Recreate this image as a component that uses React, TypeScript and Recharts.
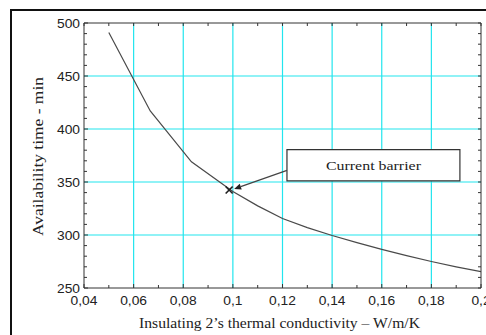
import React from 'react';
import {
  ComposedChart,
  Line,
  Scatter,
  XAxis,
  YAxis,
  CartesianGrid,
  ReferenceArea,
  ReferenceLine,
} from 'recharts';

// curve
const conductivity = [0.05, 0.0667, 0.0833, 0.1, 0.11, 0.12, 0.13, 0.14, 0.15, 0.16, 0.17, 0.18, 0.19, 0.2];
const availability = [491, 417, 369, 341, 327.5, 315.5, 307, 299.5, 292.8, 286.5, 280.5, 275, 270, 265.5];

// the current barrier marker
const barrierX = [0.0985];
const barrierY = [342.5];

const xMajor = [0.04, 0.06, 0.08, 0.1, 0.12, 0.14, 0.16, 0.18, 0.2];
const xMinor = [0.05, 0.07, 0.09, 0.11, 0.13, 0.15, 0.17, 0.19];
const yMajor = [250, 300, 350, 400, 450, 500];
const yMinor = [260, 270, 280, 290, 310, 320, 330, 340, 360, 370, 380, 390, 410, 420, 430, 440, 460, 470, 480, 490];

// annotation box and arrow, in data units
const boxX = [0.1218, 0.1915];
const boxY = [351, 380.5];
const arrowFrom = { x: 0.1218, y: 361 };
const arrowTo = { x: 0.1005, y: 343.5 };

const curveData = conductivity.map((x, i) => ({ x, y: availability[i] }));
const barrierData = barrierX.map((x, i) => ({ x, y: barrierY[i] }));

const AXIS = '#333';
const TEXT = '#222';
const SANS = '"Liberation Sans", Arial, sans-serif';
const SERIF = '"Liberation Serif", "Times New Roman", serif';

const isMajor = (v: number, majors: number[]) => majors.some((m) => Math.abs(m - v) < 1e-9);
const fmt = (v: number) => String(+v.toFixed(2)).replace('.', ',');

const BottomTick = (props: any) => {
  const { x, y, payload } = props;
  const major = isMajor(payload.value, xMajor);
  return (
    <g>
      <line x1={x} y1={y} x2={x} y2={y - (major ? 4 : 3)} stroke={AXIS} />
      {major && (
        <text
          transform={`translate(${x},${y + 17}) scale(1.15,1)`}
          textAnchor="middle"
          fontSize={12}
          fontFamily={SANS}
          fill={TEXT}
        >
          {fmt(payload.value)}
        </text>
      )}
    </g>
  );
};

const TopTick = (props: any) => {
  const { x, y } = props;
  return <line x1={x} y1={y} x2={x} y2={y + 3} stroke={AXIS} />;
};

const LeftTick = (props: any) => {
  const { x, y, payload } = props;
  const major = isMajor(payload.value, yMajor);
  return (
    <g>
      <line x1={x} y1={y} x2={x + (major ? 4 : 3)} y2={y} stroke={AXIS} />
      {major && (
        <text
          transform={`translate(${x - 4},${y + 4.5}) scale(1.15,1)`}
          textAnchor="end"
          fontSize={12}
          fontFamily={SANS}
          fill={TEXT}
        >
          {payload.value}
        </text>
      )}
    </g>
  );
};

const RightTick = (props: any) => {
  const { x, y } = props;
  return <line x1={x} y1={y} x2={x - 3} y2={y} stroke={AXIS} />;
};

const Cross = (props: any) => {
  const { cx, cy } = props;
  const s = 3.5;
  return (
    <g stroke="#222" strokeWidth={1.6}>
      <line x1={cx - s} y1={cy - s} x2={cx + s} y2={cy + s} />
      <line x1={cx - s} y1={cy + s} x2={cx + s} y2={cy - s} />
    </g>
  );
};

const Arrow = (props: any) => {
  const { x1, y1, x2, y2 } = props;
  const a = Math.atan2(y2 - y1, x2 - x1);
  const len = 7;
  const w = 3;
  const bx = x2 - len * Math.cos(a);
  const by = y2 - len * Math.sin(a);
  const px = -Math.sin(a) * w;
  const py = Math.cos(a) * w;
  return (
    <g>
      <line x1={x1} y1={y1} x2={bx} y2={by} stroke="#444" strokeWidth={1.2} />
      <polygon points={`${x2},${y2} ${bx + px},${by + py} ${bx - px},${by - py}`} fill="#222" />
    </g>
  );
};

export default function App() {
  return (
    <div style={{ position: 'fixed', left: 0, top: 0, width: 486, height: 335, overflow: 'hidden', background: '#fff' }}>
      <div
        style={{
          position: 'absolute',
          left: 10,
          top: 9,
          width: 600,
          height: 600,
          border: '2px solid #111',
        }}
      />
      <div style={{ position: 'absolute', left: 0, top: 0 }}>
        <ComposedChart width={486} height={335} margin={{ top: 22, right: 4, bottom: 17, left: 24 }}>
          <CartesianGrid
            stroke="#22e5ee"
            strokeWidth={1.2}
            verticalValues={xMajor.slice(1, -1)}
            horizontalValues={yMajor.slice(1, -1)}
          />
          <XAxis
            dataKey="x"
            type="number"
            domain={[0.04, 0.2]}
            allowDataOverflow
            ticks={[...xMajor, ...xMinor]}
            interval={0}
            height={30}
            tickSize={0}
            tickMargin={0}
            tickLine={false}
            stroke={AXIS}
            tick={<BottomTick />}
          />
          <XAxis
            xAxisId="top"
            orientation="top"
            dataKey="x"
            type="number"
            domain={[0.04, 0.2]}
            allowDataOverflow
            ticks={[...xMajor, ...xMinor]}
            interval={0}
            height={1}
            tickSize={0}
            tickMargin={0}
            tickLine={false}
            stroke={AXIS}
            tick={<TopTick />}
          />
          <YAxis
            type="number"
            domain={[250, 500]}
            allowDataOverflow
            ticks={[...yMajor, ...yMinor]}
            interval={0}
            width={60}
            tickSize={0}
            tickMargin={0}
            tickLine={false}
            stroke={AXIS}
            tick={<LeftTick />}
          />
          <YAxis
            yAxisId="right"
            orientation="right"
            type="number"
            domain={[250, 500]}
            allowDataOverflow
            ticks={[...yMajor, ...yMinor]}
            interval={0}
            width={1}
            tickSize={0}
            tickMargin={0}
            tickLine={false}
            stroke={AXIS}
            tick={<RightTick />}
          />
          <Line
            data={curveData}
            dataKey="y"
            type="linear"
            stroke="#4a4a4a"
            strokeWidth={1.2}
            dot={false}
            activeDot={false}
            isAnimationActive={false}
          />
          <ReferenceArea
            x1={boxX[0]}
            x2={boxX[1]}
            y1={boxY[0]}
            y2={boxY[1]}
            fill="#fff"
            fillOpacity={1}
            stroke="#333"
            strokeWidth={1.2}
            label={(p: any) => {
              const vb = p.viewBox;
              return (
                <text
                  x={vb.x + vb.width / 2}
                  y={vb.y + vb.height / 2 + 4.5}
                  textAnchor="middle"
                  fontSize={13}
                  fontFamily={SERIF}
                  fill={TEXT}
                  textLength={95}
                  lengthAdjust="spacingAndGlyphs"
                >
                  Current barrier
                </text>
              );
            }}
          />
          <ReferenceLine segment={[arrowFrom, arrowTo]} shape={<Arrow />} />
          <Scatter data={barrierData} dataKey="y" shape={<Cross />} isAnimationActive={false} />
        </ComposedChart>
      </div>
      <svg width={486} height={335} style={{ position: 'absolute', left: 0, top: 0, pointerEvents: 'none' }}>
        <text
          transform="translate(43,156.5) rotate(-90)"
          textAnchor="middle"
          fontSize={15}
          fontFamily={SERIF}
          fill={TEXT}
          textLength={159}
          lengthAdjust="spacingAndGlyphs"
        >
          Availability time - min
        </text>
        <text
          x={279.5}
          y={328}
          textAnchor="middle"
          fontSize={14}
          fontFamily={SERIF}
          fill={TEXT}
          textLength={281}
          lengthAdjust="spacingAndGlyphs"
        >
          Insulating 2’s thermal conductivity – W/m/K
        </text>
      </svg>
    </div>
  );
}
